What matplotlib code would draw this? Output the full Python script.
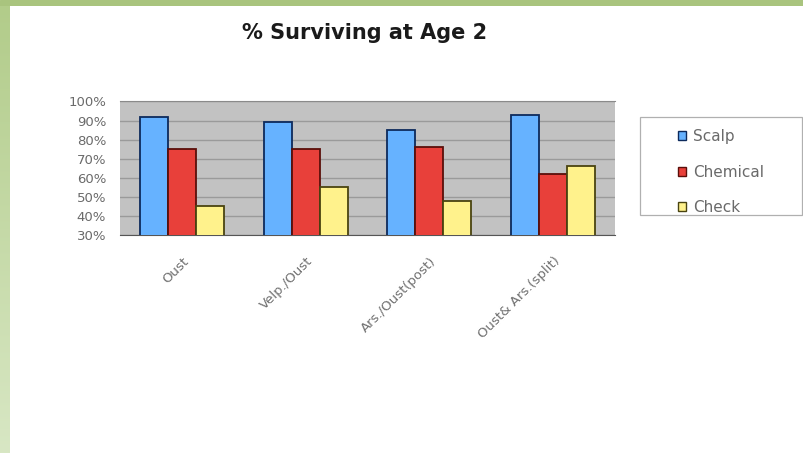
import numpy as np
import matplotlib
matplotlib.use("Agg")
import matplotlib.pyplot as plt
from matplotlib.patches import Rectangle
from matplotlib.ticker import PercentFormatter

# Survival data (% alive at age 2) per treatment
categories = ["Oust", "Velp./Oust", "Ars./Oust(post)", "Oust& Ars.(split)"]
series_names = ["Scalp", "Chemical", "Check"]
scalp = [92, 89, 85, 93]
chemical = [75, 75, 76, 62]
check = [45, 55, 48, 66]
yticks = [30, 40, 50, 60, 70, 80, 90, 100]

fills = ["#66b2ff", "#e8403a", "#fff28c"]
edges = ["#0d2a5c", "#5a0f0a", "#4a4410"]

plt.rcParams["font.family"] = ["DejaVu Sans"]

W, H = 804, 453
fig = plt.figure(figsize=(W / 100, H / 100), dpi=100)
fig.patch.set_facecolor("white")

# green slide frame: top band and left gradient strip
top_band = fig.add_axes([0, 1 - 6 / H, 1, 6 / H])
top_band.set_axis_off()
top_band.add_patch(Rectangle((0, 0), 1, 1, color="#a9c47e", transform=top_band.transAxes))

strip = fig.add_axes([0, 0, 10 / W, 1 - 6 / H])
strip.set_axis_off()
grad = np.linspace(0, 1, 256).reshape(-1, 1)
top_c = np.array([178, 204, 138]) / 255
bot_c = np.array([216, 231, 196]) / 255
img = top_c[None, None, :] * (1 - grad[:, :, None]) + bot_c[None, None, :] * grad[:, :, None]
strip.imshow(img, aspect="auto", extent=(0, 1, 0, 1), origin="upper")

# main bar chart
ax = fig.add_axes([120 / W, 1 - 235 / H, 495 / W, (235 - 101.5) / H])
ax.set_facecolor("#c2c2c2")
x = np.arange(len(categories))
bw = 0.226
for i, vals in enumerate([scalp, chemical, check]):
    ax.bar(x + (i - 1) * bw, vals, width=bw, color=fills[i], edgecolor=edges[i],
           linewidth=1.3, label=series_names[i], zorder=3)

ax.set_xlim(-0.5, len(categories) - 0.5)
ax.set_ylim(30, 100)
ax.set_yticks(yticks)
ax.yaxis.set_major_formatter(PercentFormatter(decimals=0))
ax.grid(axis="y", color="#9a9a9a", linewidth=1.0, zorder=1)
ax.tick_params(axis="y", length=0, pad=10, labelsize=9.5, labelcolor="#6a6a6a")
ax.set_xticks(x)
ax.set_xticklabels(categories, rotation=45, ha="right", rotation_mode="anchor",
                   fontsize=9.5, color="#707070")
ax.tick_params(axis="x", length=0, pad=14)
for side in ["left", "right"]:
    ax.spines[side].set_visible(False)
ax.spines["top"].set_color("#8a8a8a")
ax.spines["bottom"].set_color("#555555")

fig.text(365 / W, 1 - 33 / H, "% Surviving at Age 2", ha="center", va="center",
         fontsize=15, fontweight="bold", color="#1a1a1a")

# legend box
fig.patches.append(Rectangle((640 / W, 1 - 215 / H), 162 / W, 98 / H,
                             transform=fig.transFigure, facecolor="white",
                             edgecolor="#b0b0b0", linewidth=0.9))
handles = [Rectangle((0, 0), 1, 1, facecolor=fills[i], edgecolor=edges[i], linewidth=1)
           for i in range(3)]
fig.legend(handles, series_names, loc="upper left",
           bbox_to_anchor=(678 / W, 1 - 129 / H), frameon=False,
           fontsize=11, labelcolor="#6a6a6a", handlelength=0.55, handleheight=0.55,
           handletextpad=0.45, labelspacing=1.35, borderpad=0, borderaxespad=0)

fig.savefig("out.png", dpi=100, facecolor="white")
